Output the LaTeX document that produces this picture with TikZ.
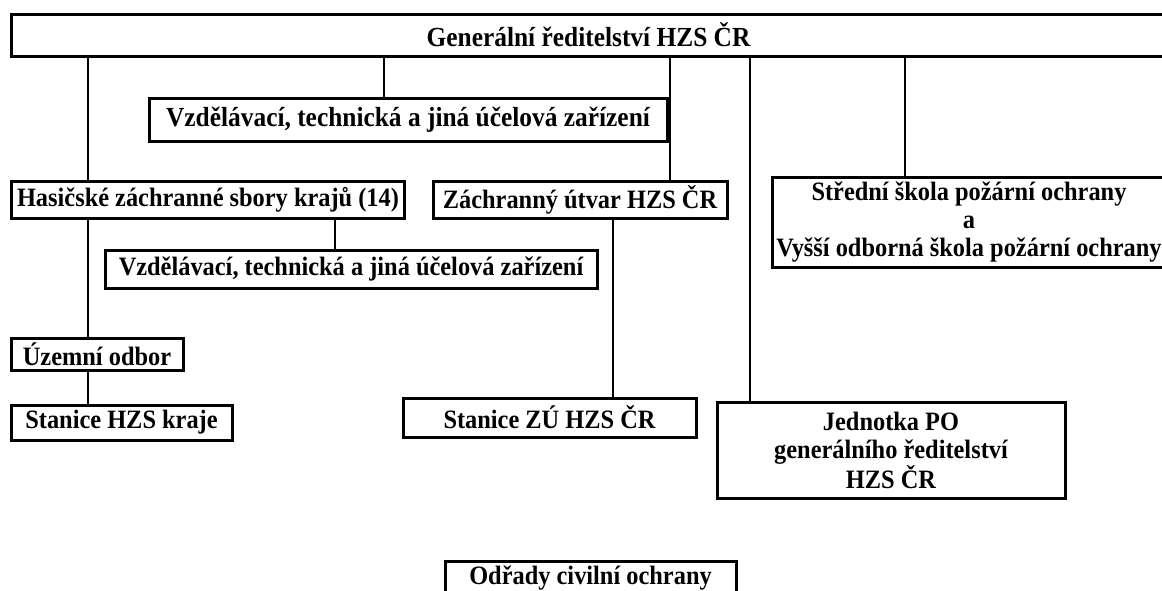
\documentclass[tikz,border=0pt]{standalone}
\usepackage{fontspec}
\setmainfont{Liberation Serif}[FakeStretch=0.92]
\begin{document}
\begin{tikzpicture}[x=1pt,y=-1pt,
  box/.style={draw, line width=3pt, rectangle, inner sep=0pt, align=center,
    font=\bfseries\fontsize{26.5}{28}\selectfont},
  big/.style={font=\bfseries\fontsize{27.6}{28}\selectfont},
  ln/.style={line width=2.6pt}]
\useasboundingbox (0,0) rectangle (1162,590);
% boxes
\node[box, big, minimum width=1155, minimum height=42] (gr) at (588.5,35) {Generální ředitelství HZS ČR};
\node[box, big, minimum width=518, minimum height=43] (v1) at (408,119.5) {Vzdělávací, technická a jiná účelová zařízení};
\node[box, minimum width=393, minimum height=37] (hs) at (208,199.5) {Hasičské záchranné sbory krajů (14)};
\node[box, minimum width=294, minimum height=37] (zu) at (580,199.5) {Záchranný útvar HZS ČR};
\node[box, minimum width=394, minimum height=90] (ss) at (969,222) {Střední škola požární ochrany\\a\\Vyšší odborná škola požární ochrany};
\node[box, minimum width=492, minimum height=38] (v2) at (351,269) {Vzdělávací, technická a jiná účelová zařízení};
\node[box, minimum width=172, minimum height=32] (uo) at (97,354) {Územní odbor};
\node[box, minimum width=221, minimum height=35] (sk) at (121.5,422.5) {Stanice HZS kraje};
\node[box, minimum width=293, minimum height=39] (sz) at (549.5,417.5) {Stanice ZÚ HZS ČR};
\node[box, minimum width=348, minimum height=96] (jp) at (891,450) {Jednotka PO\\generálního ředitelství\\HZS ČR};
\node[box, anchor=north, minimum width=291, text height=23pt, text depth=20pt] (od) at (590.5,560) {Odřady civilní ochrany};
% connector x positions
\coordinate (c1) at (88,0);
\coordinate (c2) at (384,0);
\coordinate (c3) at (670,0);
\coordinate (c4) at (750,0);
\coordinate (c5) at (905,0);
\coordinate (c6) at (335,0);
\coordinate (c7) at (613,0);
% connectors
\draw[ln] (gr.south -| c1) -- (hs.north -| c1);
\draw[ln] (gr.south -| c2) -- (v1.north -| c2);
\draw[ln] (gr.south -| c3) -- (zu.north -| c3);
\draw[ln] (gr.south -| c4) -- (jp.north -| c4);
\draw[ln] (gr.south -| c5) -- (ss.north -| c5);
\draw[ln] (hs.south -| c6) -- (v2.north -| c6);
\draw[ln] (hs.south -| c1) -- (uo.north -| c1);
\draw[ln] (uo.south -| c1) -- (sk.north -| c1);
\draw[ln] (zu.south -| c7) -- (sz.north -| c7);
\end{tikzpicture}
\end{document}
